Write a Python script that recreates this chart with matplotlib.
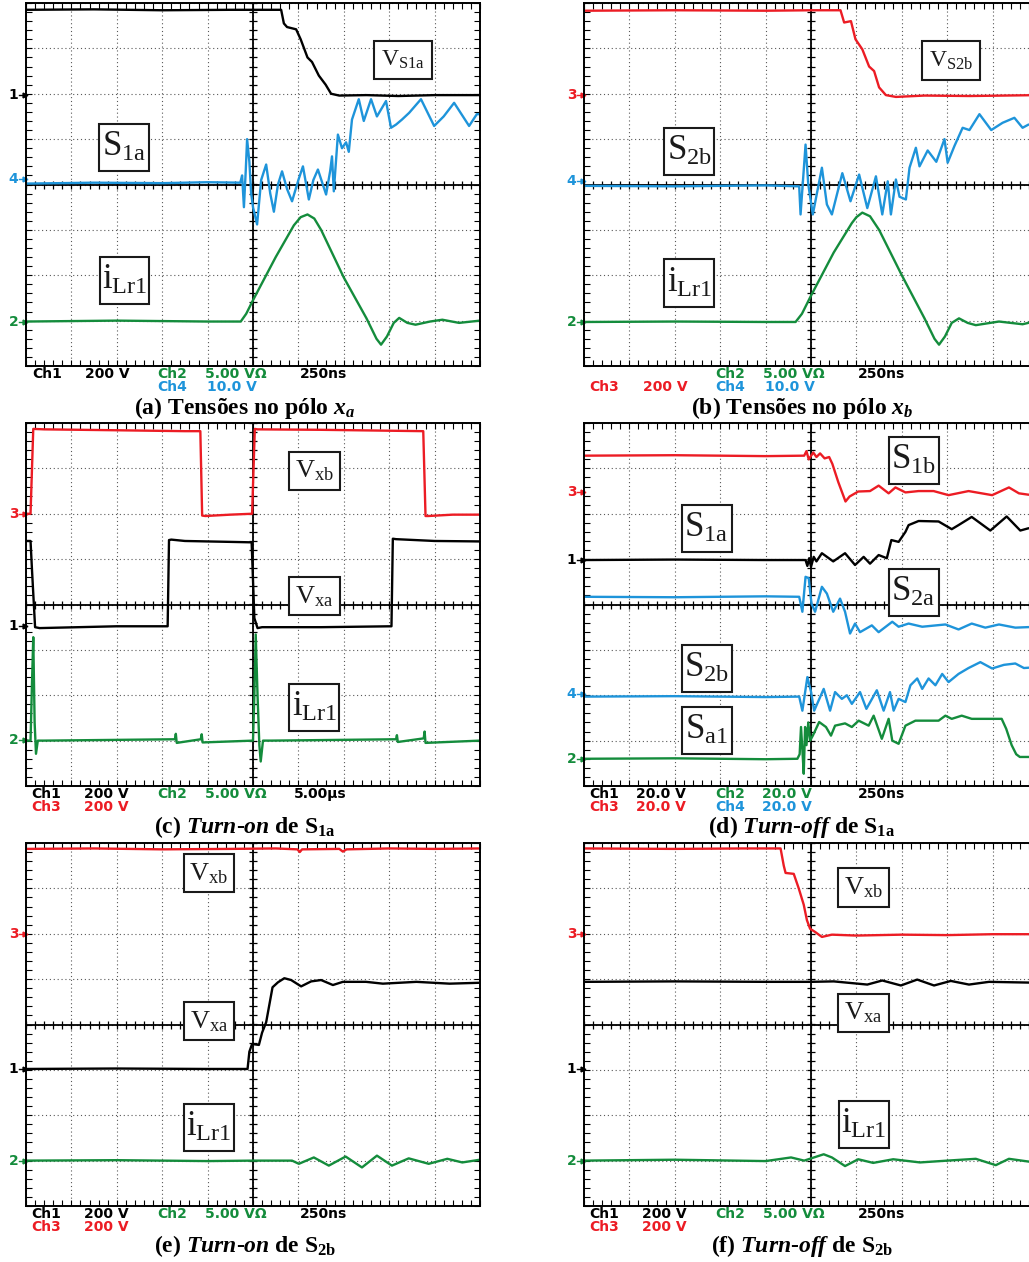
import matplotlib
matplotlib.use("Agg")
import numpy as np
import matplotlib.pyplot as plt
from matplotlib.patches import Rectangle
from matplotlib.ticker import MultipleLocator

# ---- trace data (oscilloscope divisions: x -5..5, y -4..4) ----
# (a) Tensoes no polo xa
a_ch1_x = [-5.0, -3.5, -2.0, -0.5, 0.62, 0.68, 0.75, 0.95, 1.05, 1.2, 1.3, 1.45, 1.6, 1.72, 1.9, 2.5, 3.2, 4.0, 5.0]
a_ch1_y = [3.85, 3.86, 3.84, 3.85, 3.85, 3.55, 3.47, 3.42, 3.2, 2.8, 2.7, 2.4, 2.2, 2.0, 1.96, 1.97, 1.95, 1.97, 1.97]
a_ch4_x = [-5, -3.5, -2, -1, -0.28, -0.24, -0.2, -0.16, -0.13, -0.08, -0.04, 0.0, 0.09, 0.18, 0.29,
           0.38, 0.46, 0.55, 0.64, 0.75, 0.86, 1.0, 1.10, 1.23, 1.33, 1.43, 1.61, 1.70, 1.74, 1.78,
           1.87, 1.96, 2.05, 2.11, 2.18, 2.33, 2.44, 2.60, 2.73, 2.93, 3.04, 3.15, 3.28, 3.44, 3.70,
           3.99, 4.2, 4.43, 4.76, 4.93, 5.0]
a_ch4_y = [0.02, 0.04, 0.03, 0.05, 0.04, 0.2, -0.5, 0.3, 1.0, 0.5, -0.2, -0.5, -0.88, 0.1, 0.44,
           -0.2, -0.6, 0.0, 0.29, -0.1, -0.37, 0.1, 0.4, -0.33, 0.1, 0.33, -0.22, 0.3, 0.62, -0.15,
           1.1, 0.8, 0.93, 0.72, 1.43, 1.88, 1.4, 1.88, 1.5, 1.84, 1.25, 1.32, 1.43, 1.58, 1.88,
           1.29, 1.5, 1.8, 1.29, 1.55, 1.55]
a_ch2_x = [-5, -3, -1, -0.27, -0.15, 0.0, 0.5, 0.9, 1.05, 1.2, 1.35, 1.5, 2.0, 2.5, 2.72, 2.82,
           2.95, 3.1, 3.22, 3.4, 3.58, 3.9, 4.17, 4.54, 5.0]
a_ch2_y = [-3.02, -3.0, -3.02, -3.02, -2.85, -2.55, -1.6, -0.9, -0.72, -0.66, -0.75, -1.0, -2.05,
           -2.95, -3.4, -3.53, -3.35, -3.05, -2.94, -3.05, -3.09, -3.02, -2.98, -3.05, -3.0]

# (b) Tensoes no polo xb
b_ch3_x = [-5, -3, -1, 0.0, 0.65, 0.73, 0.88, 0.98, 1.13, 1.28, 1.39, 1.5, 1.65, 1.87, 2.5, 3.5, 5.0]
b_ch3_y = [3.83, 3.84, 3.83, 3.84, 3.84, 3.57, 3.6, 3.2, 2.98, 2.6, 2.5, 2.14, 1.97, 1.93, 1.96, 1.95, 1.97]
b_ch4_x = [-5, -3, -1, -0.26, -0.23, -0.12, -0.06, 0.04, 0.24, 0.35, 0.46, 0.69, 0.87, 1.06, 1.24,
           1.43, 1.57, 1.69, 1.76, 1.87, 1.95, 2.09, 2.17, 2.31, 2.39, 2.57, 2.76, 2.94, 3.01, 3.16,
           3.34, 3.49, 3.71, 3.97, 4.22, 4.48, 4.66, 4.79, 5.0]
b_ch4_y = [-0.03, -0.04, -0.02, -0.04, -0.66, 0.88, 0.0, -0.66, 0.37, -0.44, -0.66, 0.25, -0.37, 0.22, -0.52,
           0.18, -0.66, 0.07, -0.66, 0.11, -0.27, -0.33, 0.37, 0.81, 0.4, 0.75, 0.5, 1.0, 0.48, 0.85,
           1.25, 1.2, 1.55, 1.2, 1.36, 1.47, 1.25, 1.32, 1.32]
b_ch2_x = [-5, -3, -1, -0.34, -0.2, 0.0, 0.5, 0.9, 1.0, 1.13, 1.3, 1.5, 2.0, 2.5, 2.72, 2.82, 2.95,
           3.1, 3.26, 3.45, 3.63, 4.14, 4.66, 5.0]
b_ch2_y = [-3.03, -3.02, -3.03, -3.03, -2.85, -2.45, -1.5, -0.85, -0.72, -0.62, -0.7, -1.0, -2.0,
           -2.95, -3.4, -3.53, -3.35, -3.05, -2.95, -3.05, -3.1, -3.02, -3.08, -3.0]

# (c) Turn-on de S1a
c_ch3_x = [-5.0, -4.9, -4.84, -4.6, -3.0, -1.5, -1.16, -1.12, -1.05, -0.5, -0.02, 0.04, 0.1, 1.5,
           3.0, 3.75, 3.8, 3.86, 4.4, 5.0]
c_ch3_y = [2.0, 2.0, 3.87, 3.86, 3.84, 3.82, 3.82, 1.96, 1.95, 1.98, 2.0, 3.87, 3.86, 3.85,
           3.83, 3.82, 1.95, 1.95, 1.98, 1.98]
c_ch1_x = [-5.0, -4.9, -4.87, -4.8, -4.7, -3, -1.88, -1.85, -1.8, -1.5, -0.5, -0.03, 0.03, 0.1,
           0.2, 1.5, 3.05, 3.08, 3.15, 4, 5]
c_ch1_y = [1.4, 1.4, 0.8, -0.5, -0.52, -0.48, -0.48, 1.42, 1.43, 1.4, 1.38, 1.37, -0.3, -0.52,
           -0.5, -0.5, -0.48, 1.45, 1.44, 1.4, 1.39]
c_ch2_x = [-5, -4.9, -4.87, -4.84, -4.81, -4.78, -4.74, -4.6, -1.72, -1.7, -1.68, -1.15, -1.13,
           -1.11, 0.0, 0.03, 0.06, 0.1, 0.14, 0.17, 0.22, 0.4, 3.15, 3.17, 3.19, 3.76, 3.78, 3.8, 5]
c_ch2_y = [-3.0, -3.0, -1.8, -0.72, -2.6, -3.29, -3.0, -3.0, -2.97, -2.85, -3.05, -2.97, -2.86,
           -3.04, -3.0, -2.0, -0.66, -2.0, -3.1, -3.46, -3.0, -3.0, -2.97, -2.88, -3.03, -2.95,
           -2.8, -3.05, -3.0]

# (d) Turn-off de S1a
d_ch3_x = [-5, -3, -1, -0.15, -0.1, -0.05, 0.05, 0.12, 0.2, 0.3, 0.4, 0.47, 0.6, 0.76, 0.85,
           1.04, 1.3, 1.49, 1.71, 1.86, 2.08, 2.37, 2.7, 3.03, 3.47, 3.99, 4.36, 4.58, 4.79, 5.0]
d_ch3_y = [3.28, 3.29, 3.27, 3.28, 3.38, 3.2, 3.35, 3.25, 3.33, 3.22, 3.25, 3.1, 2.7, 2.27, 2.38,
           2.49, 2.5, 2.62, 2.45, 2.58, 2.47, 2.5, 2.5, 2.41, 2.5, 2.41, 2.58, 2.45, 2.42, 2.42]
d_ch1_x = [-5, -3, -1, -0.12, -0.08, -0.04, 0.0, 0.06, 0.12, 0.24, 0.49, 0.75, 0.97, 1.16, 1.3,
           1.49, 1.67, 1.77, 1.93, 2.08, 2.15, 2.37, 2.81, 3.1, 3.25, 3.54, 3.95, 4.31, 4.61, 4.79, 5.0]
d_ch1_y = [0.98, 0.99, 0.98, 0.98, 0.85, 1.02, 0.83, 1.05, 0.95, 1.13, 0.95, 1.13, 0.87, 1.05, 0.9,
           1.09, 1.02, 1.42, 1.38, 1.6, 1.75, 1.84, 1.83, 1.66, 1.75, 1.93, 1.63, 1.94, 1.63, 1.68, 1.68]
d_s2a_x = [-5, -3, -1, -0.26, -0.19, -0.12, -0.05, 0.01, 0.09, 0.24, 0.35, 0.49, 0.64, 0.75, 0.86,
           0.97, 1.08, 1.34, 1.49, 1.79, 1.93, 2.15, 2.45, 2.96, 3.25, 3.54, 3.84, 4.14, 4.5, 5.0]
d_s2a_y = [0.17, 0.16, 0.18, 0.17, -0.16, 0.61, 0.58, 0.02, -0.16, 0.39, 0.24, -0.16, 0.13, -0.16, -0.64,
           -0.42, -0.61, -0.46, -0.61, -0.38, -0.49, -0.42, -0.49, -0.44, -0.55, -0.42, -0.51, -0.44, -0.51, -0.49]
d_ch4_x = [-5, -3, -1, -0.26, -0.19, -0.08, 0.0, 0.07, 0.28, 0.42, 0.53, 0.68, 0.79, 0.9, 1.08,
           1.22, 1.45, 1.6, 1.74, 1.82, 1.93, 2.08, 2.19, 2.34, 2.45, 2.59, 2.74, 2.89, 3.03, 3.25,
           3.47, 3.73, 3.99, 4.25, 4.5, 4.69, 5.0]
d_ch4_y = [-2.03, -2.02, -2.04, -2.03, -2.34, -1.6, -1.92, -2.34, -1.86, -2.34, -1.93, -2.08, -2.0, -2.19, -1.93,
           -2.3, -1.89, -2.34, -1.93, -2.34, -2.08, -2.15, -1.78, -1.63, -1.86, -1.63, -1.78, -1.53, -1.71, -1.53,
           -1.4, -1.27, -1.41, -1.33, -1.3, -1.4, -1.38]
d_ch2_x = [-5, -3, -1, -0.3, -0.25, -0.22, -0.19, -0.16, -0.13, -0.1, -0.06, -0.02, 0.04, 0.18, 0.33,
           0.44, 0.53, 0.75, 0.9, 1.05, 1.27, 1.38, 1.56, 1.71, 1.79, 1.93, 2.08, 2.3, 2.81, 2.96,
           3.1, 3.32, 3.54, 4.2, 4.3, 4.42, 4.52, 4.6, 5.0]
d_ch2_y = [-3.4, -3.39, -3.41, -3.4, -3.3, -2.7, -3.2, -3.73, -2.7, -3.1, -2.6, -3.0, -2.89, -2.59, -2.7,
           -2.89, -2.67, -2.62, -2.7, -2.56, -2.67, -2.45, -2.96, -2.52, -3.0, -3.07, -2.67, -2.56, -2.56, -2.45,
           -2.52, -2.45, -2.52, -2.52, -2.74, -3.1, -3.3, -3.36, -3.36]

# (e) Turn-on de S2b
e_ch3_x = [-5, -3.5, -2, -0.5, 0.5, 0.98, 1.03, 1.08, 1.9, 1.98, 2.06, 3, 4, 5]
e_ch3_y = [3.87, 3.88, 3.86, 3.87, 3.88, 3.86, 3.8, 3.86, 3.87, 3.81, 3.86, 3.88, 3.87, 3.88]
e_ch1_x = [-5, -3, -1, -0.12, -0.08, -0.02, 0.13, 0.2, 0.29, 0.43, 0.55, 0.69, 0.84, 1.06, 1.28,
           1.5, 1.76, 1.98, 2.49, 2.86, 3.6, 4.33, 5.0]
e_ch1_y = [-0.98, -0.97, -0.98, -0.98, -0.6, -0.43, -0.45, -0.18, 0.05, 0.82, 0.93, 1.02, 0.98, 0.84, 0.95,
           0.98, 0.87, 0.94, 0.94, 0.9, 0.94, 0.9, 0.92]
e_ch2_x = [-5, -3, -1, 0.0, 0.86, 1.01, 1.34, 1.67, 2.04, 2.4, 2.73, 3.06, 3.43, 3.87, 4.28, 4.61, 5.0]
e_ch2_y = [-3.0, -2.99, -3.01, -3.0, -3.0, -3.07, -2.93, -3.11, -2.91, -3.15, -2.89, -3.11, -2.95,
           -3.07, -2.96, -3.04, -2.98]

# (f) Turn-off de S2b
f_ch3_x = [-5, -3, -1.5, -0.67, -0.6, -0.56, -0.38, -0.27, -0.16, -0.09, -0.02, 0.09, 0.24, 0.46,
           1.0, 2.0, 3.0, 4.0, 5.0]
f_ch3_y = [3.88, 3.87, 3.88, 3.88, 3.5, 3.34, 3.32, 3.0, 2.64, 2.3, 2.11, 2.04, 1.93, 1.98,
           1.96, 1.98, 1.97, 1.99, 1.99]
f_ch1_x = [-5, -3, -1, 0.0, 0.5, 1.24, 1.57, 1.98, 2.34, 2.71, 3.08, 3.48, 3.92, 5.0]
f_ch1_y = [0.94, 0.95, 0.94, 0.94, 0.95, 0.88, 0.97, 0.86, 0.99, 0.86, 0.96, 0.88, 0.94, 0.92]
f_ch2_x = [-5, -3, -1, -0.44, -0.15, 0.28, 0.46, 0.75, 1.04, 1.37, 1.81, 2.4, 3.0, 3.63, 4.07, 4.36, 5.0]
f_ch2_y = [-3.0, -2.98, -3.01, -2.93, -3.0, -2.86, -2.93, -3.12, -2.97, -3.05, -2.97, -3.04, -3.0,
           -2.96, -3.1, -2.96, -3.05]

RED, BLUE, GREEN, BLACK = "#ec1c24", "#1e94da", "#148c3c", "#000000"

W, H = 1029, 1262
PW, PH = 454, 363

plt.rcParams["mathtext.fontset"] = "custom"
plt.rcParams["mathtext.rm"] = "Liberation Serif:bold"
plt.rcParams["mathtext.it"] = "Liberation Serif:italic:bold"
plt.rcParams["mathtext.bf"] = "Liberation Serif:bold"

SERIF = "Liberation Serif"
SANS = "DejaVu Sans"

panels = [
    dict(left=26, top=3,
         traces=[(a_ch1_x, a_ch1_y, BLACK), (a_ch4_x, a_ch4_y, BLUE), (a_ch2_x, a_ch2_y, GREEN)],
         markers=[("1", 1.97, BLACK), ("4", 0.13, BLUE), ("2", -3.02, GREEN)],
         labels=[("V", "S1a", 3.31, 2.74, "v2"), ("S", "1a", -2.84, 0.82, "big"),
                 ("i", "Lr1", -2.83, -2.11, "big")],
         foot=[("Ch1", 6, 0, BLACK), ("200 V", 59, 0, BLACK), ("Ch2", 131, 0, GREEN),
               ("5.00 VΩ", 179, 0, GREEN), ("250ns", 274, 0, BLACK),
               ("Ch4", 131, 1, BLUE), ("10.0 V", 181, 1, BLUE)],
         caption=r"(a) Tensões no pólo $x_a$", cap_x=245, cap_y=414),
    dict(left=584, top=3,
         traces=[(b_ch3_x, b_ch3_y, RED), (b_ch4_x, b_ch4_y, BLUE), (b_ch2_x, b_ch2_y, GREEN)],
         markers=[("3", 1.97, RED), ("4", 0.07, BLUE), ("2", -3.03, GREEN)],
         labels=[("V", "S2b", 3.08, 2.73, "v2"), ("S", "2b", -2.68, 0.73, "big"),
                 ("i", "Lr1", -2.68, -2.17, "big")],
         foot=[("Ch2", 131, 0, GREEN), ("5.00 VΩ", 179, 0, GREEN), ("250ns", 274, 0, BLACK),
               ("Ch3", 5, 1, RED), ("200 V", 59, 1, RED),
               ("Ch4", 131, 1, BLUE), ("10.0 V", 181, 1, BLUE)],
         caption=r"(b) Tensões no pólo $x_b$", cap_x=802, cap_y=414),
    dict(left=26, top=423,
         traces=[(c_ch3_x, c_ch3_y, RED), (c_ch1_x, c_ch1_y, BLACK), (c_ch2_x, c_ch2_y, GREEN)],
         markers=[("3", 2.0, RED), ("1", -0.48, BLACK), ("2", -2.98, GREEN)],
         labels=[("V", "xb", 1.35, 2.94, "v"), ("V", "xa", 1.35, 0.18, "v"),
                 ("i", "Lr1", 1.35, -2.27, "big")],
         foot=[("Ch1", 5, 0, BLACK), ("200 V", 58, 0, BLACK), ("Ch2", 131, 0, GREEN),
               ("5.00 VΩ", 179, 0, GREEN), ("5.00µs", 268, 0, BLACK),
               ("Ch3", 5, 1, RED), ("200 V", 58, 1, RED)],
         caption=r"(c) $\mathit{Turn}$-$\mathit{on}$ de $\mathbf{S_{1a}}$", cap_x=245, cap_y=833),
    dict(left=584, top=423,
         traces=[(d_ch3_x, d_ch3_y, RED), (d_ch1_x, d_ch1_y, BLACK), (d_s2a_x, d_s2a_y, BLUE),
                 (d_ch4_x, d_ch4_y, BLUE), (d_ch2_x, d_ch2_y, GREEN)],
         markers=[("3", 2.49, RED), ("1", 0.98, BLACK), ("4", -1.97, BLUE), ("2", -3.4, GREEN)],
         labels=[("S", "1b", 2.26, 3.17, "big"), ("S", "1a", -2.3, 1.68, "big"),
                 ("S", "2a", 2.26, 0.27, "big"), ("S", "2b", -2.3, -1.41, "big"),
                 ("S", "a1", -2.3, -2.77, "big")],
         foot=[("Ch1", 5, 0, BLACK), ("20.0 V", 52, 0, BLACK), ("Ch2", 131, 0, GREEN),
               ("20.0 V", 178, 0, GREEN), ("250ns", 274, 0, BLACK),
               ("Ch3", 5, 1, RED), ("20.0 V", 52, 1, RED),
               ("Ch4", 131, 1, BLUE), ("20.0 V", 178, 1, BLUE)],
         caption=r"(d) $\mathit{Turn}$-$\mathit{off}$ de $\mathbf{S_{1a}}$", cap_x=802, cap_y=833),
    dict(left=26, top=843,
         traces=[(e_ch3_x, e_ch3_y, RED), (e_ch1_x, e_ch1_y, BLACK), (e_ch2_x, e_ch2_y, GREEN)],
         markers=[("3", 1.99, RED), ("1", -0.98, BLACK), ("2", -3.0, GREEN)],
         labels=[("V", "xb", -0.97, 3.33, "v"), ("V", "xa", -0.97, 0.07, "v"),
                 ("i", "Lr1", -0.97, -2.27, "big")],
         foot=[("Ch1", 5, 0, BLACK), ("200 V", 58, 0, BLACK), ("Ch2", 131, 0, GREEN),
               ("5.00 VΩ", 179, 0, GREEN), ("250ns", 274, 0, BLACK),
               ("Ch3", 5, 1, RED), ("200 V", 58, 1, RED)],
         caption=r"(e) $\mathit{Turn}$-$\mathit{on}$ de $\mathbf{S_{2b}}$", cap_x=245, cap_y=1252),
    dict(left=584, top=843,
         traces=[(f_ch3_x, f_ch3_y, RED), (f_ch1_x, f_ch1_y, BLACK), (f_ch2_x, f_ch2_y, GREEN)],
         markers=[("3", 1.99, RED), ("1", -0.98, BLACK), ("2", -3.0, GREEN)],
         labels=[("V", "xb", 1.16, 3.02, "v"), ("V", "xa", 1.16, 0.26, "v"),
                 ("i", "Lr1", 1.16, -2.21, "big")],
         foot=[("Ch1", 5, 0, BLACK), ("200 V", 58, 0, BLACK), ("Ch2", 131, 0, GREEN),
               ("5.00 VΩ", 179, 0, GREEN), ("250ns", 274, 0, BLACK),
               ("Ch3", 5, 1, RED), ("200 V", 58, 1, RED)],
         caption=r"(f) $\mathit{Turn}$-$\mathit{off}$ de $\mathbf{S_{2b}}$", cap_x=802, cap_y=1252),
]

# label box styles: (box width, box height in divisions, font size)
box_style = {"big": (1.1, 1.04, 25), "v": (1.12, 0.84, 19), "v2": (1.28, 0.85, 17)}

fig = plt.figure(figsize=(W / 100, H / 100), dpi=100)

for p in panels:
    ax = fig.add_axes([p["left"] / W, 1 - (p["top"] + PH) / H, PW / W, PH / H])
    ax.set_xlim(-5, 5)
    ax.set_ylim(-4, 4)
    ax.xaxis.set_major_locator(MultipleLocator(1))
    ax.yaxis.set_major_locator(MultipleLocator(1))
    ax.xaxis.set_minor_locator(MultipleLocator(0.2))
    ax.yaxis.set_minor_locator(MultipleLocator(0.2))
    ax.tick_params(which="both", direction="in", top=True, right=True, length=4, width=0.8,
                   labelbottom=False, labelleft=False)
    ax.grid(True, which="major", linestyle=(0, (1, 2.5)), color="0.35", lw=0.8)
    for s in ax.spines.values():
        s.set_linewidth(1.4)
        s.set_zorder(6)

    # centre graticule with sub-division ticks
    ax.axhline(0, color="k", lw=1.3, zorder=2)
    ax.axvline(0, color="k", lw=1.3, zorder=2)
    sub_x = np.arange(-5, 5.001, 0.2)
    sub_y = np.arange(-4, 4.001, 0.2)
    ax.plot(sub_x, np.zeros_like(sub_x), ls="none", marker="|", ms=6, mew=0.9, color="k", zorder=2)
    ax.plot(np.zeros_like(sub_y), sub_y, ls="none", marker="_", ms=6, mew=0.9, color="k", zorder=2)

    for xs, ys, c in p["traces"]:
        ax.plot(xs, ys, color=c, lw=1.7, zorder=3, solid_joinstyle="round")

    for txt, yv, c in p["markers"]:
        ax.text(-5.17, yv, txt, color=c, fontsize=10, fontfamily=SANS, fontweight="bold",
                ha="right", va="center", clip_on=False)
        ax.plot([-5.16, -5.02], [yv, yv], color=c, lw=1.0, clip_on=False)
        ax.plot([-5.03], [yv], marker=">", ms=3.5, color=c, clip_on=False)

    for main, sub, cx, cy, kind in p["labels"]:
        bw, bh, fs = box_style[kind]
        ax.add_patch(Rectangle((cx - bw / 2, cy - bh / 2), bw, bh, facecolor="white",
                               edgecolor="0.1", lw=1.5, zorder=5))
        ax.text(cx, cy, r"$\mathregular{%s_{%s}}$" % (main, sub), fontsize=fs, fontfamily=SERIF,
                ha="center", va="center", zorder=7, color="0.1")

    for txt, off, row, c in p["foot"]:
        fig.text((p["left"] + off) / W, 1 - (p["top"] + PH + 1 + 13 * row) / H, txt, color=c,
                 fontsize=10, fontfamily=SANS, fontweight="bold", ha="left", va="top")

    fig.text(p["cap_x"] / W, 1 - p["cap_y"] / H, p["caption"], fontsize=17, fontfamily=SERIF,
             fontweight="bold", ha="center", va="baseline")

fig.savefig("out.png", dpi=100)
